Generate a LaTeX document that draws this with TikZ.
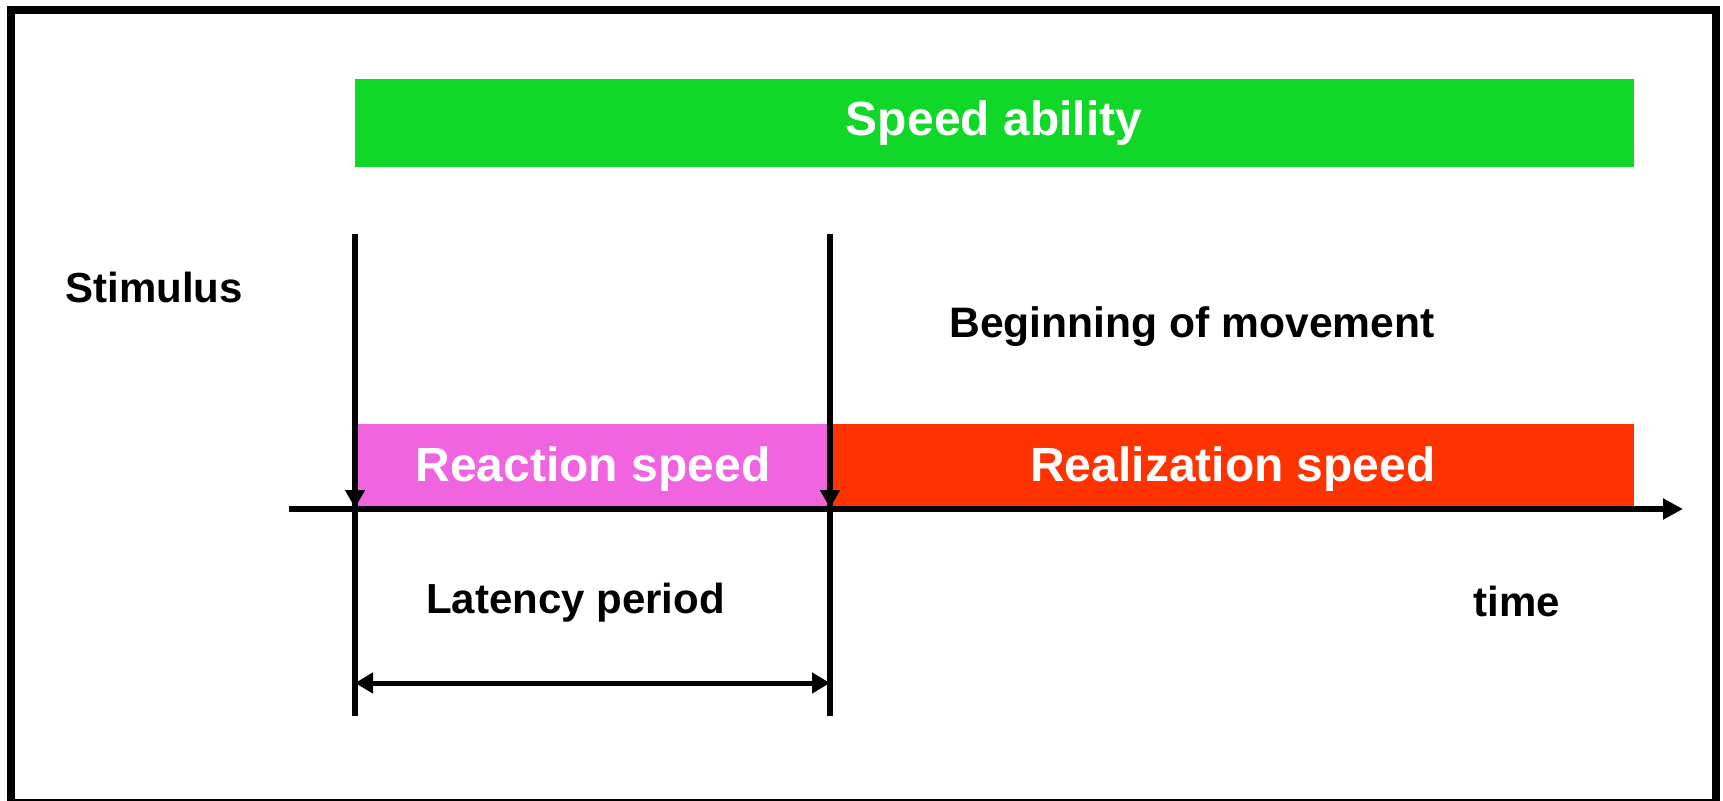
\documentclass[tikz,border=0pt]{standalone}
\usepackage{fontspec}
\setmainfont{Liberation Sans}
\usetikzlibrary{arrows.meta}
\definecolor{barGreen}{RGB}{16,216,40}
\definecolor{barPink}{RGB}{240,100,224}
\definecolor{barRed}{RGB}{255,51,0}
\tikzset{
  blk/.style={inner sep=0pt, anchor=base, text=black, font=\bfseries\fontsize{21}{25}\selectfont},
  wht/.style={inner sep=0pt, anchor=base, text=white, font=\bfseries\fontsize{24}{29}\selectfont},
  vline/.style={line width=3pt, draw=black},
  downtip/.style={line width=3pt, -{Triangle[length=9pt,width=9.5pt]}},
}
\begin{document}
\begin{tikzpicture}[x=0.5pt,y=-0.5pt]
\useasboundingbox (0,0) rectangle (1723,800);
\fill[white] (0,0) rectangle (1723,800);
% frame
\draw[line width=4pt] (11,10) rectangle (1716,803);
% bars
\fill[barGreen] (355,79) rectangle (1634,167);
\fill[barPink] (355,424) rectangle (830,509);
\fill[barRed] (830,424) rectangle (1634,509);
% coordinates
\coordinate (axL) at (289,509);
\coordinate (axR) at (1683,509);
\coordinate (v1t) at (355,234);
\coordinate (v1a) at (355,508);
\coordinate (v1b) at (355,716);
\coordinate (v2t) at (830,234);
\coordinate (v2a) at (830,508);
\coordinate (v2b) at (830,716);
\coordinate (d1) at (355,683);
\coordinate (d2) at (830,683);
% axis
\draw[line width=3pt, -{Triangle[length=10pt,width=10pt]}] (axL) -- (axR);
% verticals
\draw[vline] (v1t) -- (v1b);
\draw[vline] (v2t) -- (v2b);
\draw[downtip] (v1t) -- (v1a);
\draw[downtip] (v2t) -- (v2a);
% latency double arrow
\draw[line width=2.5pt, {Triangle[length=9pt,width=10pt]}-{Triangle[length=9pt,width=10pt]}] (d1) -- (d2);
% texts
\node[wht] (speed) at (994,135) {Speed ability};
\node[blk] (stim) at (154,302) {Stimulus};
\node[blk, font=\bfseries\fontsize{21.3}{25}\selectfont] (begin) at (1192,337) {Beginning of movement};
\node[wht] (react) at (593,481) {Reaction speed};
\node[wht] (real) at (1233,481) {Realization speed};
\node[blk] (lat) at (575.5,613) {Latency period};
\node[blk] (time) at (1516.5,616) {time};
\end{tikzpicture}
\end{document}
